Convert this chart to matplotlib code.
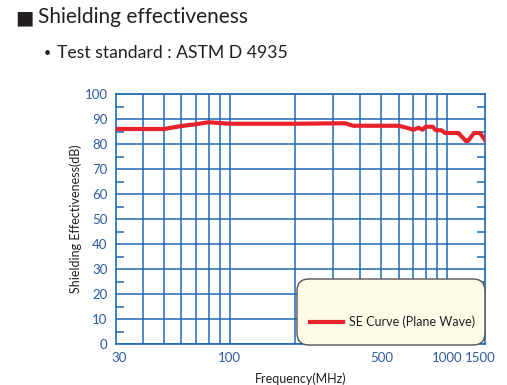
import matplotlib
matplotlib.use("Agg")
import matplotlib.pyplot as plt
from matplotlib.patches import FancyBboxPatch
from matplotlib.lines import Line2D
from matplotlib.transforms import ScaledTranslation
import numpy as np

plt.rcParams['font.family'] = ['Lato', 'DejaVu Sans']

freq = [30, 50, 60, 70, 80, 100, 200, 340, 370, 600, 654, 701, 740, 774, 800, 861, 889, 945, 982, 1131, 1225, 1252, 1335, 1422, 1500]
se   = [86.0, 86.0, 87.2, 87.9, 88.7, 88.1, 88.1, 88.3, 87.3, 87.3, 86.5, 85.7, 86.5, 85.7, 86.9, 86.9, 85.5, 85.5, 84.4, 84.4, 81.2, 81.2, 84.4, 84.4, 81.6]
xgrid = [40, 50, 60, 70, 80, 90, 100, 200, 300, 400, 500, 600, 700, 800, 900, 1000]
xticks = [30, 100, 500, 1000, 1500]
xticklabels = ["30", "100", "500", "1000", "1500"]
yticks = list(range(0, 101, 10))
series_label = "SE Curve (Plane Wave)"

blue = "#1f69b1"
tblue = "#2c5aa3"
red = "#e8212b"
dark = "#231f20"

fig = plt.figure(figsize=(5.07, 3.85), dpi=100)
ax = fig.add_axes([116/507, 41/385, 369/507, 250/385])
ax.set_xscale('log')
ax.set_xlim(30, 1500)
ax.set_ylim(0, 100)

for g in xgrid:
    ax.axvline(g, color=blue, lw=1.1, zorder=1)
for y in yticks:
    ax.axhline(y, color=blue, lw=1.1, zorder=1)

ax.plot(freq, se, color=red, lw=3, zorder=3, solid_joinstyle='round')

ax.set_xticks(xticks)
ax.set_xticklabels(xticklabels)
ax.xaxis.set_minor_locator(matplotlib.ticker.NullLocator())
ax.tick_params(axis='x', which='both', length=0, pad=6, labelsize=9.5, labelcolor=tblue)
labs = ax.get_xticklabels()
labs[0].set_transform(labs[0].get_transform() + ScaledTranslation(0.03, 0, fig.dpi_scale_trans))
labs[-1].set_transform(labs[-1].get_transform() + ScaledTranslation(-0.05, 0, fig.dpi_scale_trans))
ax.set_yticks(yticks)
ax.set_yticks(np.arange(5, 100, 10), minor=True)
ax.tick_params(axis='y', which='major', length=0, pad=6, labelsize=9.5, labelcolor=tblue)
ax.tick_params(axis='y', which='minor', direction='in', length=6, width=1.1, color=blue, left=True, right=True)
for s in ax.spines.values():
    s.set_color(blue)
    s.set_linewidth(1.2)

ax.set_xlabel("Frequency(MHz)", fontsize=9, color=dark)
ax.set_ylabel("Shielding Effectiveness(dB)", fontsize=9, color=dark)
ax.xaxis.set_label_coords(0.5, -0.115)
ax.yaxis.set_label_coords(-0.092, 0.5)

# legend box
box = FancyBboxPatch((2.97 + 0.12, 0.40 + 0.12), 1.88 - 0.24, 0.66 - 0.24,
                     boxstyle="round,pad=0.12", transform=fig.dpi_scale_trans,
                     facecolor="#fefbe8", edgecolor="#555555", lw=1.0, zorder=5)
fig.add_artist(box)
fig.add_artist(Line2D([3.10, 3.43], [0.63, 0.63], transform=fig.dpi_scale_trans,
                      color=red, lw=3, zorder=6))
fig.text(3.49, 0.63, series_label, transform=fig.dpi_scale_trans, fontsize=9,
         color=dark, va='center', ha='left', zorder=6)

fig.text(15/507, 1 - 18/385, "■", fontsize=14, color=dark, va='center', ha='left')
fig.text(38/507, 1 - 17/385, "Shielding effectiveness", fontsize=15, color=dark, va='center', ha='left')
fig.text(44/507, 1 - 53/385, "•", fontsize=9, color=dark, va='center', ha='left')
fig.text(57/507, 1 - 53/385, "Test standard : ASTM D 4935", fontsize=12.7, color=dark, va='center', ha='left')

fig.savefig("out.png", dpi=100)
